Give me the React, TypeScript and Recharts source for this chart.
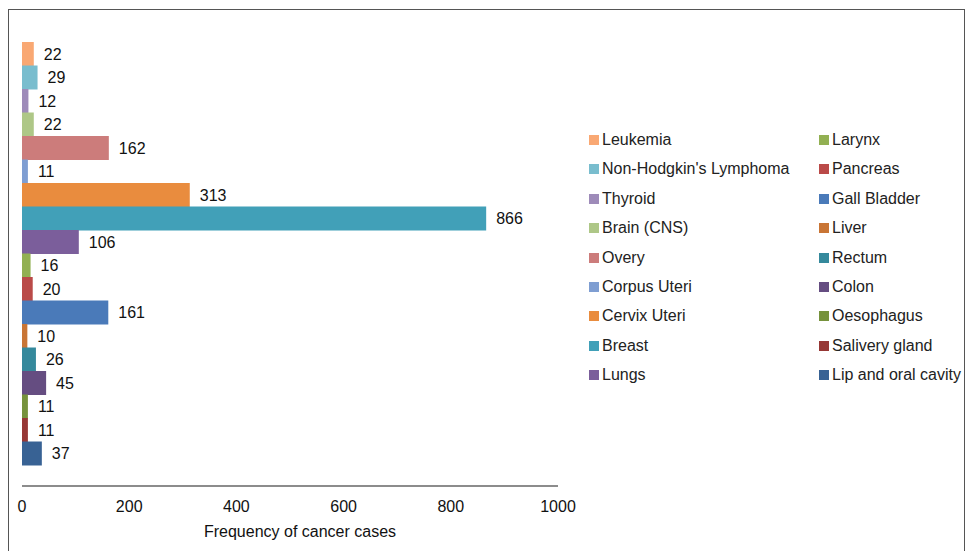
import React from "react";
import { BarChart, Bar, XAxis, YAxis, Cell, LabelList } from "recharts";

const categories = [
  "Leukemia",
  "Non-Hodgkin's Lymphoma",
  "Thyroid",
  "Brain (CNS)",
  "Overy",
  "Corpus Uteri",
  "Cervix Uteri",
  "Breast",
  "Lungs",
  "Larynx",
  "Pancreas",
  "Gall Bladder",
  "Liver",
  "Rectum",
  "Colon",
  "Oesophagus",
  "Salivery gland",
  "Lip and oral cavity",
];

const values = [22, 29, 12, 22, 162, 11, 313, 866, 106, 16, 20, 161, 10, 26, 45, 11, 11, 37];

const colors = [
  "#F9A873",
  "#79BDCE",
  "#9E8BB9",
  "#AEC787",
  "#CC7C7B",
  "#7F9ED2",
  "#E98C3E",
  "#41A0B8",
  "#7B5E9B",
  "#92B052",
  "#BA4A48",
  "#4A7AB9",
  "#C97535",
  "#35899C",
  "#654D81",
  "#76923C",
  "#963735",
  "#386294",
];

const xTicks = [0, 200, 400, 600, 800, 1000];

const data = categories.map((name, i) => ({ name, value: values[i] }));

const FONT = "'Liberation Sans', Arial, sans-serif";

const LegendBlock = () => {
  const half = Math.ceil(categories.length / 2);
  const cols = [categories.slice(0, half), categories.slice(half)];
  return (
    <div
      style={{
        position: "absolute",
        left: 580,
        top: 120,
        width: 374,
        height: 270,
        fontFamily: FONT,
      }}
    >
      {cols.map((col, ci) =>
        col.map((name, ri) => {
          const idx = ci * half + ri;
          return (
            <div
              key={name}
              style={{
                position: "absolute",
                left: ci === 0 ? 0 : 230,
                top: ri * 29.4,
                display: "flex",
                alignItems: "center",
                height: 20,
                whiteSpace: "nowrap",
              }}
            >
              <span
                style={{
                  display: "inline-block",
                  width: 10,
                  height: 10,
                  background: colors[idx],
                  marginRight: 3,
                }}
              />
              <span style={{ fontSize: 16, color: "#222" }}>{name}</span>
            </div>
          );
        })
      )}
    </div>
  );
};

export default function App() {
  return (
    <div style={{ position: "relative", width: 965, height: 551, background: "#fff", overflow: "hidden" }}>
      <style>{"html,body{margin:0;padding:0;overflow:hidden;}"}</style>
      <div
        style={{
          position: "absolute",
          left: 8,
          top: 9,
          width: 955,
          height: 542,
          borderLeft: "1px solid #555",
          borderTop: "1px solid #555",
          borderRight: "1px solid #555",
          background: "#fff",
        }}
      >
        <BarChart
          width={955}
          height={541}
          data={data}
          layout="vertical"
          barCategoryGap={0}
          margin={{ top: 10, left: 13, right: 406, bottom: 7 }}
          style={{ fontFamily: FONT }}
        >
          <XAxis
            type="number"
            domain={[0, 1000]}
            ticks={xTicks}
            axisLine={{ stroke: "#8C8C8C", strokeWidth: 2 }}
            tickLine={false}
            tick={{ fontSize: 16, fill: "#111", fontFamily: FONT }}
            tickMargin={9}
            height={58}
            label={{
              value: "Frequency of cancer cases",
              position: "insideBottom",
              offset: 7,
              dx: 10,
              fontSize: 16,
              fill: "#111",
              fontFamily: FONT,
            }}
          />
          <YAxis
            type="category"
            dataKey="name"
            width={0}
            tick={false}
            tickLine={false}
            axisLine={{ stroke: "#A0A0A0", strokeWidth: 2 }}
            padding={{ top: 22, bottom: 21 }}
          />
          <Bar dataKey="value" isAnimationActive={false}>
            {data.map((d, i) => (
              <Cell key={d.name} fill={colors[i]} />
            ))}
            <LabelList
              dataKey="value"
              position="right"
              offset={10}
              fill="#111"
              fontSize={16}
              fontFamily={FONT}
            />
          </Bar>
        </BarChart>
        <LegendBlock />
      </div>
    </div>
  );
}
